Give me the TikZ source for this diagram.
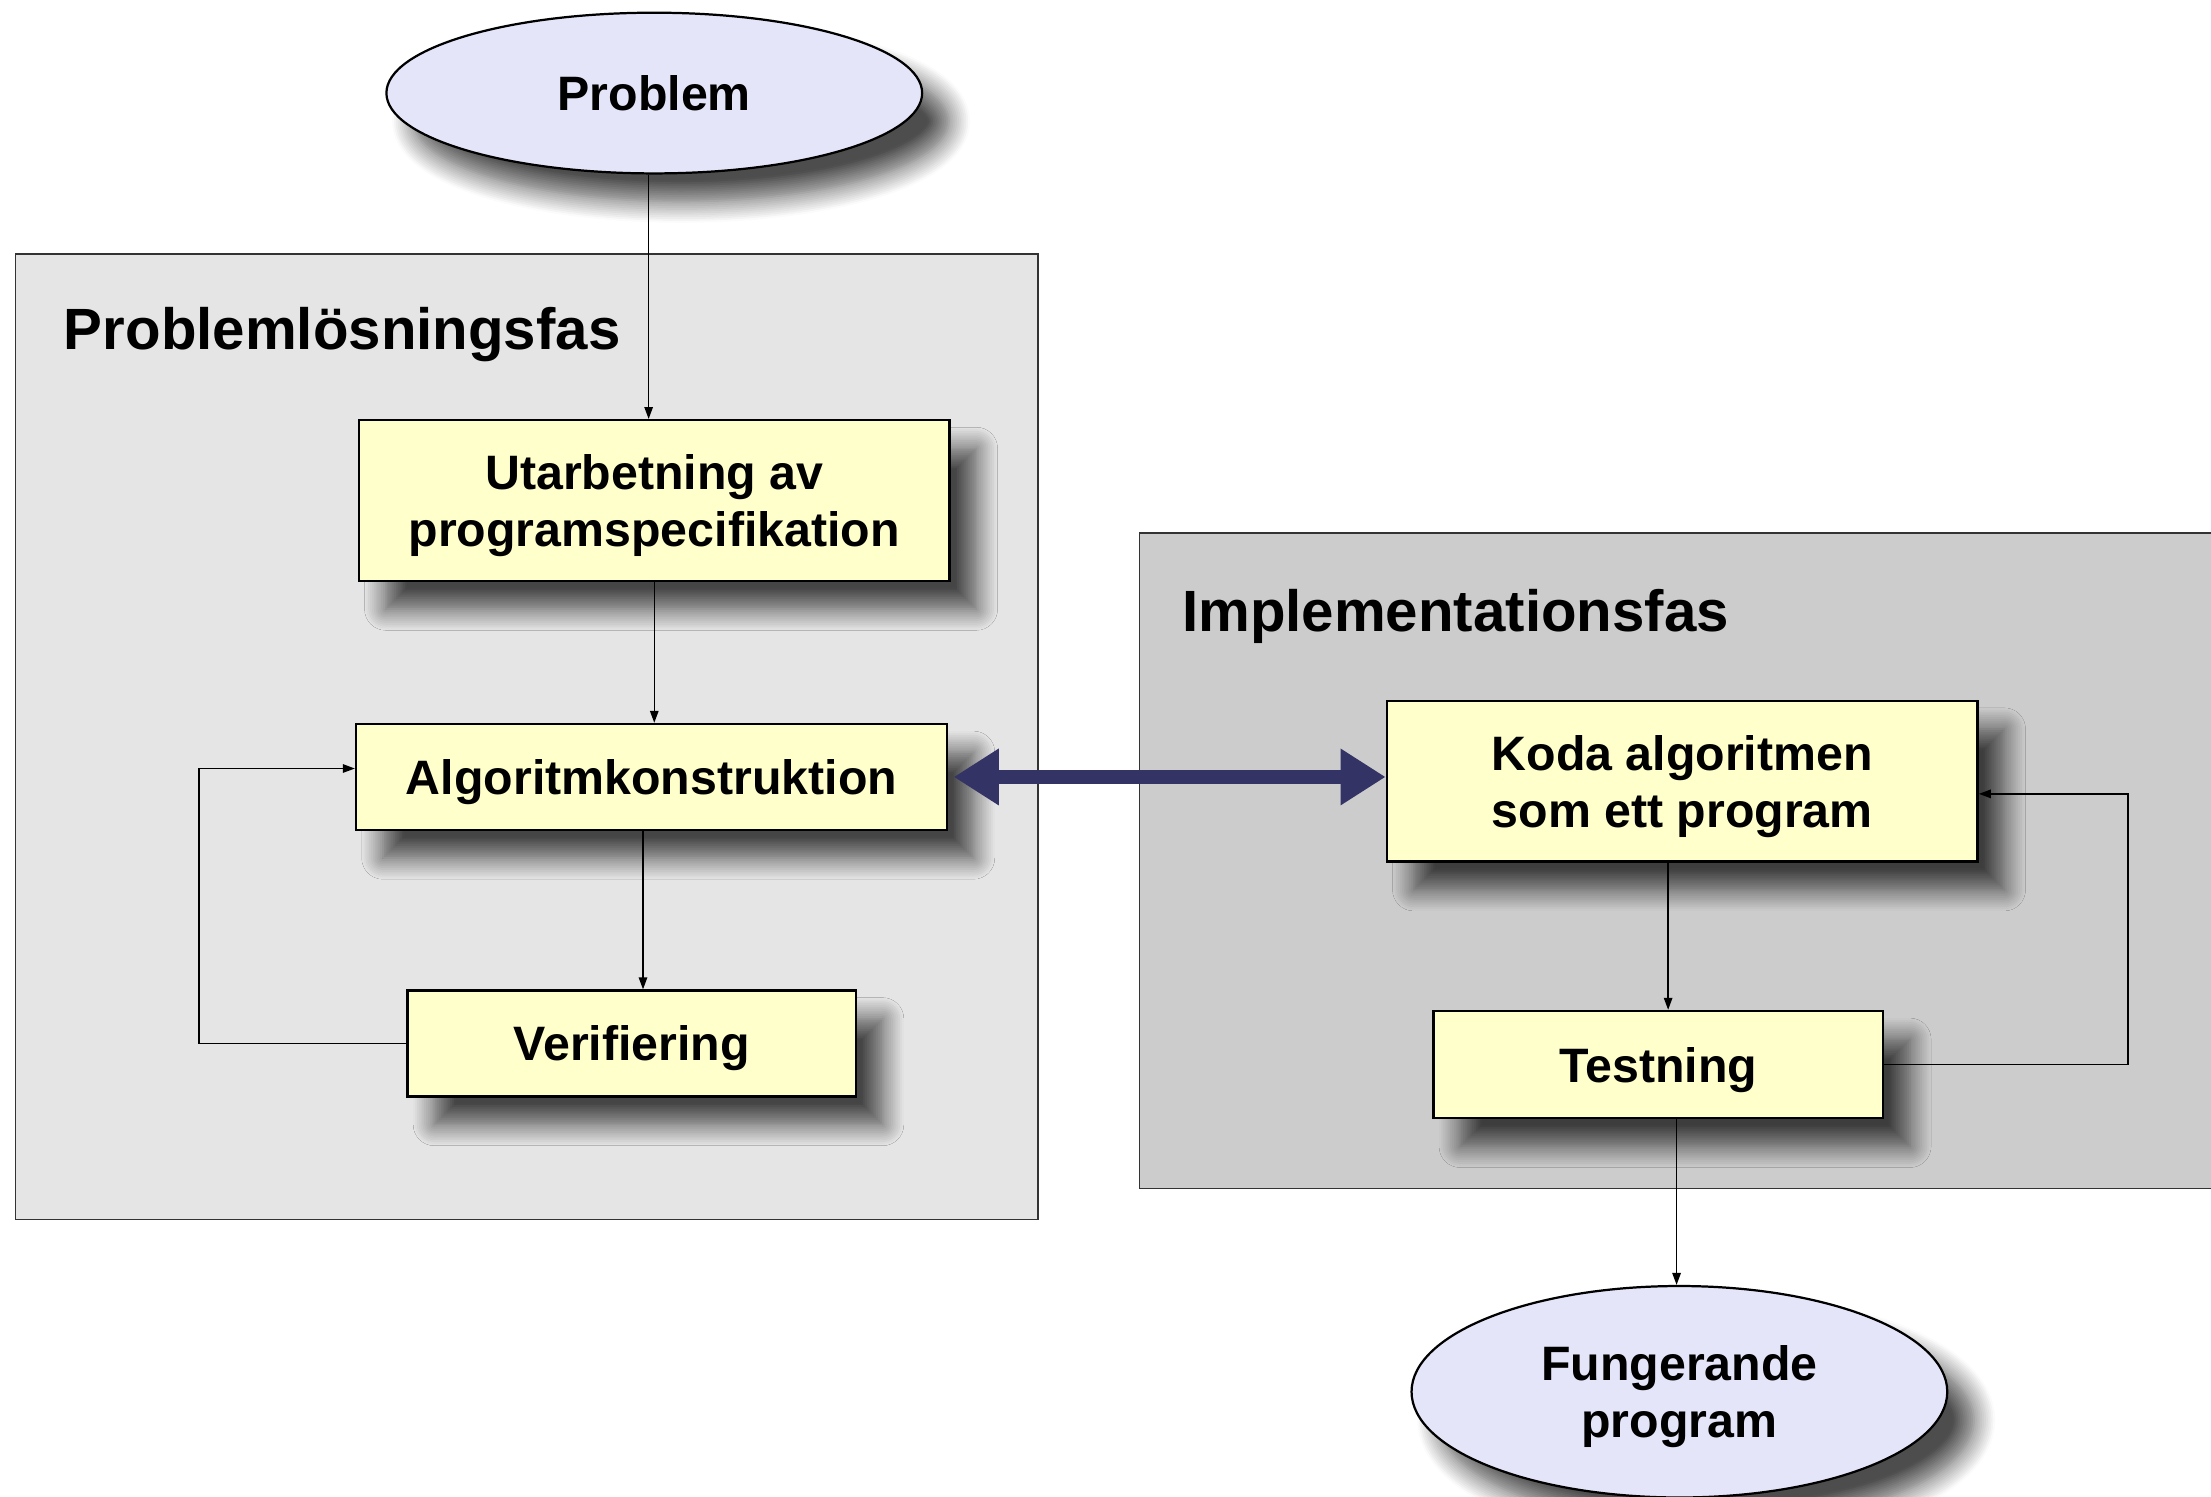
\documentclass[tikz,border=0pt]{standalone}
\usepackage{fontspec}
\setmainfont{Liberation Sans}
\usetikzlibrary{shapes.geometric,arrows.meta,shadows.blur}
\begin{document}
\begin{tikzpicture}[x=0.02cm, y=-0.02cm,
    myshadow/.style={blur shadow={shadow xshift=0.38cm, shadow yshift=-0.4cm, shadow blur radius=0.3cm, shadow blur steps=12, shadow opacity=70}},
    procbox/.style={draw=black, line width=1pt, fill=boxyellow, inner sep=0pt, align=center, text depth=0pt, myshadow,
        font=\fontsize{19.5}{23}\selectfont\bfseries},
    endpoint/.style={ellipse, draw=black, line width=0.9pt, fill=endlilac, inner sep=0pt, align=center, text depth=0pt, myshadow,
        font=\fontsize{19.5}{23}\selectfont\bfseries},
    phase/.style={anchor=west, inner sep=0pt, font=\fontsize{23.5}{28}\selectfont\bfseries},
    flow/.style={line width=0.6pt, -{Triangle[length=0.17cm, width=0.12cm]}},
    link/.style={line width=0.2cm, draw=navy, {Triangle[length=0.64cm, width=0.76cm]}-{Triangle[length=0.64cm, width=0.76cm]}}]
        \definecolor{panelleft}{RGB}{229, 229, 229}
        \definecolor{panelright}{RGB}{204, 204, 204}
        \definecolor{boxyellow}{RGB}{255, 255, 204}
        \definecolor{endlilac}{RGB}{229, 229, 250}
        \definecolor{navy}{RGB}{51, 51, 102}
        \useasboundingbox (0,0) rectangle (1568,1061);

        % the two phases
        \filldraw[fill=panelleft, draw=black!80, line width=0.6pt] (11,180) rectangle (736,865);
        \filldraw[fill=panelright, draw=black!80, line width=0.6pt] (808,378) rectangle (1580,843);
        \node[phase] (fas1) at (45,237){Problemlösningsfas};
        \node[phase] (fas2) at (838,437){Implementationsfas};

        \node[endpoint, minimum width=7.6cm, minimum height=2.28cm] (problem) at (464,66){Problem};

        \node[procbox, minimum width=8.38cm, minimum height=2.28cm] (spec) at (464,355){Utarbetning av\\programspecifikation};
        \node[procbox, minimum width=8.38cm, minimum height=1.5cm] (algo) at (462,551){Algoritmkonstruktion};
        \node[procbox, minimum width=6.36cm, minimum height=1.5cm] (verif) at (448,740){Verifiering};

        \node[procbox, minimum width=8.38cm, minimum height=2.28cm] (koda) at (1193,554){Koda algoritmen\\som ett program};
        \node[procbox, minimum width=6.38cm, minimum height=1.52cm] (test) at (1176,755){Testning};

        \node[endpoint, minimum width=7.6cm, minimum height=3cm] (klar) at (1191,987){Fungerande\\program};

        \coordinate (loopL) at (141,640);
        \coordinate (loopR) at (1509,660);

        \draw[flow] ([xshift=-0.08cm]problem.south) -- ([xshift=-0.08cm]problem.south |- spec.north);
        \draw[flow] (spec.south) -- (spec.south |- algo.north);
        \draw[flow] ([xshift=-0.12cm]algo.south) -- ([xshift=-0.12cm]algo.south |- verif.north);
        \draw[flow] (verif.west) -| (loopL) |- ([yshift=0.12cm]algo.west);

        \draw[flow] ([xshift=-0.2cm]koda.south) -- ([xshift=-0.2cm]koda.south |- test.north);
        \draw[flow] (test.east) -| (loopR) |- ([yshift=-0.18cm]koda.east);
        \draw[flow] ([xshift=0.26cm]test.south) -- ([xshift=0.26cm]test.south |- klar.north);

        \draw[link] ([xshift=0.08cm]algo.east) -- (algo.east -| koda.west);
    \end{tikzpicture}
\end{document}
